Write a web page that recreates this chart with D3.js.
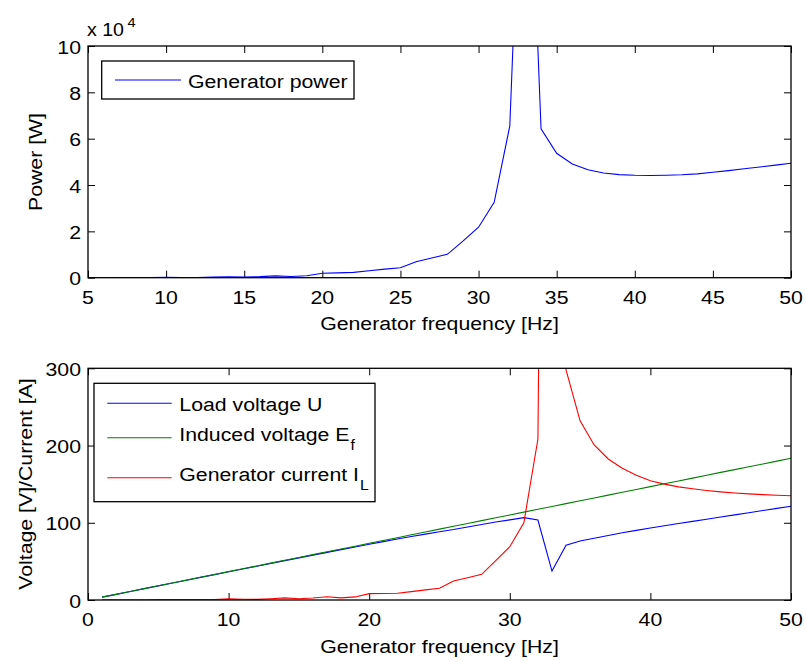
<!DOCTYPE html>
<html><head><meta charset="utf-8">
<script src="https://cdn.jsdelivr.net/npm/d3@7"></script>
<style>
html,body{margin:0;padding:0;background:#fff;}
svg text{font-family:"Liberation Sans",Arial,Helvetica,sans-serif;fill:#000;}
</style></head>
<body>
<svg id="fig" width="806" height="661"></svg>
<script>
// ---- data ----
const freq = [1,2,3,4,5,6,7,8,9,10,11,12,13,14,15,16,17,18,19,20,21,22,23,24,25,26,27,28,29,30,31,32,33,34,35,36,37,38,39,40,41,42,43,44,45,46,47,48,49,50];
const powerW = [0,0,3,5,8,10,14,20,20,160,110,110,230,410,280,450,800,550,820,1900,2100,2300,3000,3700,4300,6900,8500,10100,15800,21800,32500,65500,236000,64300,53700,49100,46600,45200,44500,44200,44100,44200,44400,44800,45500,46200,47000,47800,48600,49400];
const loadVoltage = [3.7,7.3,11.0,14.7,18.3,22.0,25.6,29.3,32.9,36.5,40.2,43.8,47.4,51.0,54.5,58.1,61.7,65.2,68.7,72.2,75.6,79.0,82.2,85.3,88.3,91.2,94.6,97.8,100.9,103.8,106.6,103.6,37.5,70.8,76.4,80.0,83.6,87.0,90.2,93.3,96.2,99.0,101.8,104.6,107.4,110.2,113.0,115.8,118.6,121.3];
const inducedVoltage = [3.7,7.3,11.0,14.7,18.4,22.0,25.7,29.4,33.0,36.7,40.4,44.0,47.7,51.4,55.1,58.7,62.4,66.1,69.7,73.4,77.1,80.7,84.4,88.1,91.8,95.4,99.1,102.8,106.4,110.1,113.8,117.4,121.1,124.8,128.5,132.1,135.8,139.5,143.1,146.8,150.5,154.1,157.8,161.5,165.2,168.8,172.5,176.2,179.8,183.5];
const genCurrent = [0.3,0.3,0.4,0.4,0.5,0.5,0.6,0.7,0.6,1.5,0.9,0.8,1.6,2.7,1.7,2.6,4.3,2.8,4.0,8.3,8.5,8.7,10.9,13.1,15.2,24.5,28.8,33.2,51.0,69.0,100.0,208.5,2100,298,232,200.7,182.6,170.5,161.5,154.5,150.0,146.5,144.0,141.8,140.0,138.6,137.4,136.4,135.6,135.0];
const topXTicks = [5,10,15,20,25,30,35,40,45,50];
const topYTicks = [0,20000,40000,60000,80000,100000];
const botXTicks = [0,10,20,30,40,50];
const botYTicks = [0,100,200,300];

const FS = 19, SX = 1.12;
const svg = d3.select("#fig");

function txt(g, x, y, s, anchor, rot, fs) {
  const t = g.append("text")
    .attr("transform", `translate(${x},${y}) rotate(${rot||0}) scale(${SX},1)`)
    .attr("text-anchor", anchor || "start")
    .style("font-size", (fs || FS) + "px");
  t.text(s);
  return t;
}

function panel(cfg) {
  const {x0, x1, y0, y1, xDom, yDom, xTicks, yTicks, yFmt, id} = cfg;
  const x = d3.scaleLinear().domain(xDom).range([x0, x1]);
  const y = d3.scaleLinear().domain(yDom).range([y1, y0]);
  const g = svg.append("g");
  g.append("clipPath").attr("id", id).append("rect")
    .attr("x", x0).attr("y", y0).attr("width", x1 - x0).attr("height", y1 - y0);
  const tl = 7;
  const axB = d3.axisBottom(x).tickValues(xTicks).tickSize(-tl).tickFormat("");
  const axT = d3.axisTop(x).tickValues(xTicks).tickSize(-tl).tickFormat("");
  const axL = d3.axisLeft(y).tickValues(yTicks).tickSize(-tl).tickFormat("");
  const axR = d3.axisRight(y).tickValues(yTicks).tickSize(-tl).tickFormat("");
  [[axB, `translate(0,${y1})`], [axT, `translate(0,${y0})`], [axL, `translate(${x0},0)`], [axR, `translate(${x1},0)`]]
    .forEach(([a, tr]) => {
      const ag = g.append("g").attr("transform", tr).call(a);
      ag.select(".domain").remove();
      ag.selectAll("line").attr("stroke", "#000").attr("stroke-width", 1);
    });
  xTicks.forEach(v => txt(g, x(v), y1 + 26, String(v), "middle"));
  yTicks.forEach(v => txt(g, x0 - 7, y(v) + 7.5, yFmt(v), "end"));
  return {x, y, g};
}

// ---- top panel ----
const topP = panel({x0: 88, x1: 791, y0: 46, y1: 277.7, xDom: [5, 50], yDom: [0, 100000],
  xTicks: topXTicks, yTicks: topYTicks, yFmt: v => String(v / 10000), id: "clipTop"});
const lineTop = d3.line().x((d, i) => topP.x(freq[i])).y(d => topP.y(d));
topP.g.append("path").datum(powerW).attr("d", lineTop)
  .attr("fill", "none").attr("stroke", "#0000ff").attr("stroke-width", 1.1)
  .attr("clip-path", "url(#clipTop)");
topP.g.append("rect").attr("x", 88).attr("y", 46).attr("width", 703).attr("height", 231.7)
  .attr("fill", "none").attr("stroke", "#000").attr("stroke-width", 1.3);
txt(topP.g, 87, 35.5, "x 10", "start", 0, 17.5);
txt(topP.g, 127.5, 27, "4", "start", 0, 13);
txt(topP.g, 439.5, 329.5, "Generator frequency [Hz]", "middle");
txt(topP.g, 42, 162, "Power [W]", "middle", -90);
const lt = topP.g.append("g");
lt.append("rect").attr("x", 101.7).attr("y", 61).attr("width", 252.3).attr("height", 38)
  .attr("fill", "#fff").attr("stroke", "#000").attr("stroke-width", 1.3);
lt.append("line").attr("x1", 115).attr("x2", 181).attr("y1", 80).attr("y2", 80)
  .attr("stroke", "#0000ff").attr("stroke-width", 1.1);
txt(lt, 188, 87.5, "Generator power");

// ---- bottom panel ----
const botP = panel({x0: 88, x1: 791, y0: 368.3, y1: 600, xDom: [0, 50], yDom: [0, 300],
  xTicks: botXTicks, yTicks: botYTicks, yFmt: v => String(v), id: "clipBot"});
const series = [
  {vals: loadVoltage, color: "#0000ff"},
  {vals: inducedVoltage, color: "#008000"},
  {vals: genCurrent, color: "#ff0000"}
];
const lineBot = vals => d3.line().x((d, i) => botP.x(freq[i])).y(d => botP.y(d))(vals);
series.forEach(s => {
  botP.g.append("path").attr("d", lineBot(s.vals))
    .attr("fill", "none").attr("stroke", s.color).attr("stroke-width", 1.1)
    .attr("clip-path", "url(#clipBot)");
});
botP.g.append("rect").attr("x", 88).attr("y", 368.3).attr("width", 703).attr("height", 231.7)
  .attr("fill", "none").attr("stroke", "#000").attr("stroke-width", 1.3);
txt(botP.g, 439.5, 653, "Generator frequency [Hz]", "middle");
txt(botP.g, 32, 484, "Voltage [V]/Current [A]", "middle", -90);
const lb = botP.g.append("g");
lb.append("rect").attr("x", 94).attr("y", 383.3).attr("width", 281).attr("height", 118.4)
  .attr("fill", "#fff").attr("stroke", "#000").attr("stroke-width", 1.3);
const legRows = [
  {main: "Load voltage U", sub: "", ly: 403.3, by: 410.7, color: "#0000ff"},
  {main: "Induced voltage E", sub: "f", ly: 437.7, by: 441, color: "#008000"},
  {main: "Generator current I", sub: "L", ly: 477.7, by: 481, color: "#ff0000"}
];
legRows.forEach(r => {
  lb.append("line").attr("x1", 107.3).attr("x2", 171.7).attr("y1", r.ly).attr("y2", r.ly)
    .attr("stroke", r.color).attr("stroke-width", 1.1);
  const t = txt(lb, 179.3, r.by, r.main);
  if (r.sub) {
    const w = t.node().getComputedTextLength() * SX;
    txt(lb, 179.3 + w + 1, r.by + 9, r.sub, "start", 0, 14);
  }
});
</script>
</body></html>
